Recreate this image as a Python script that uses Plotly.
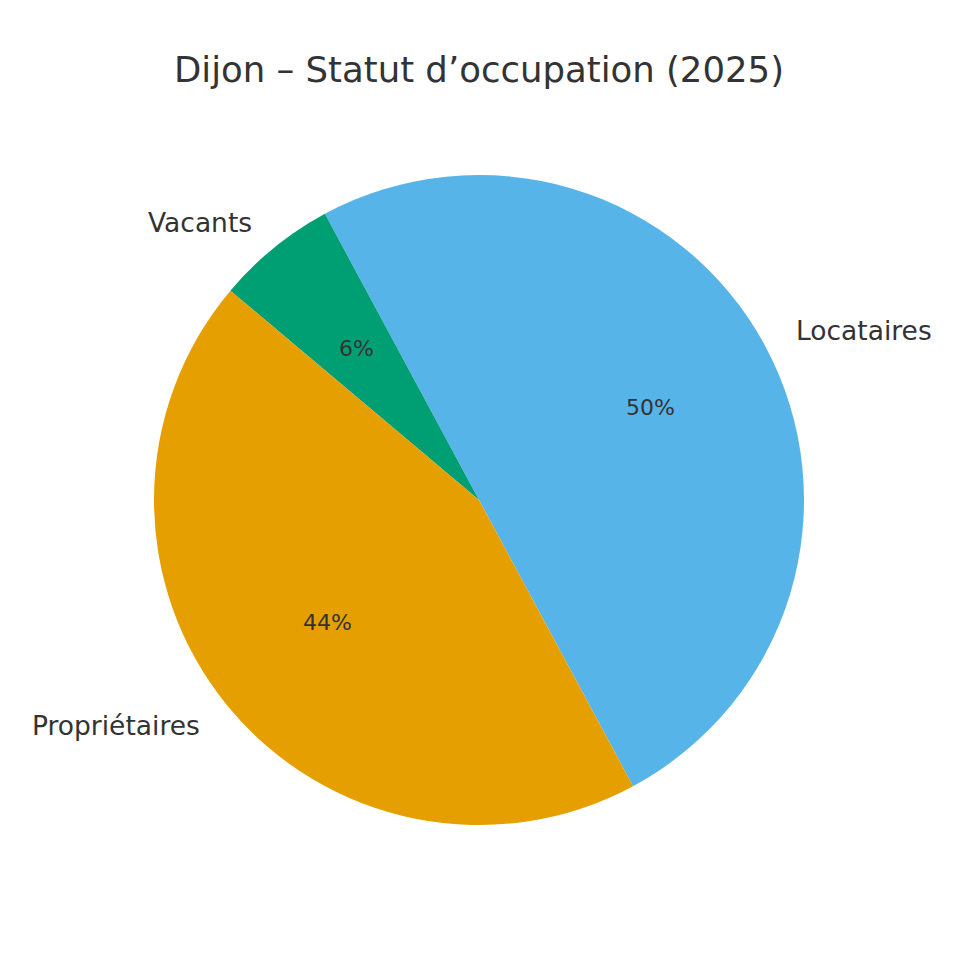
import math
import plotly.graph_objects as go

labels = ["Locataires", "Vacants", "Propriétaires"]
shares = [50, 6, 44]
colors = ["#56B4E9", "#009E73", "#E69F00"]

TEXT = "#333333"
FONT = "DejaVu Sans"
START = -61.7  # degrees, counterclockwise from 3 o'clock

# the page puts the plot 8 px in from the top-left corner
cx, cy, r = 471 / 960, 1 - 492 / 960, 325 / 960

fig = go.Figure(go.Pie(
    labels=labels,
    values=shares,
    sort=False,
    direction="counterclockwise",
    rotation=90 - START - 180,
    marker=dict(colors=colors, line=dict(width=0)),
    textinfo="none",
    domain=dict(x=[cx - r, cx + r], y=[cy - r, cy + r]),
    showlegend=False,
    hoverinfo="label+percent",
))

# matplotlib-like text: percentages at 0.6 R, labels at 1.1 R
total = sum(shares)
angle = START
for lab, v in zip(labels, shares):
    sweep = 360 * v / total
    mid = math.radians(angle + sweep / 2)
    angle += sweep
    c, s = math.cos(mid), math.sin(mid)
    fig.add_annotation(
        x=cx + 0.6 * r * c, y=cy + 0.6 * r * s,
        xref="paper", yref="paper",
        text=f"{v / total:.0%}", showarrow=False,
        xanchor="center", yanchor="middle",
        font=dict(family=FONT, size=22, color=TEXT),
    )
    fig.add_annotation(
        x=cx + 1.1 * r * c, y=cy + 1.1 * r * s,
        xref="paper", yref="paper",
        text=lab, showarrow=False,
        xanchor="left" if c > 0 else "right", yanchor="middle",
        font=dict(family=FONT, size=26.5, color=TEXT),
    )

fig.update_layout(
    width=960,
    height=960,
    margin=dict(l=0, r=0, t=0, b=0),
    paper_bgcolor="white",
    plot_bgcolor="white",
    title=dict(
        text="Dijon – Statut d’occupation (2025)",
        x=471 / 960,
        xanchor="center",
        y=1 - 62 / 960,
        yanchor="middle",
        font=dict(family=FONT, size=35.5, color=TEXT),
    ),
)

fig.write_html("out.html")
